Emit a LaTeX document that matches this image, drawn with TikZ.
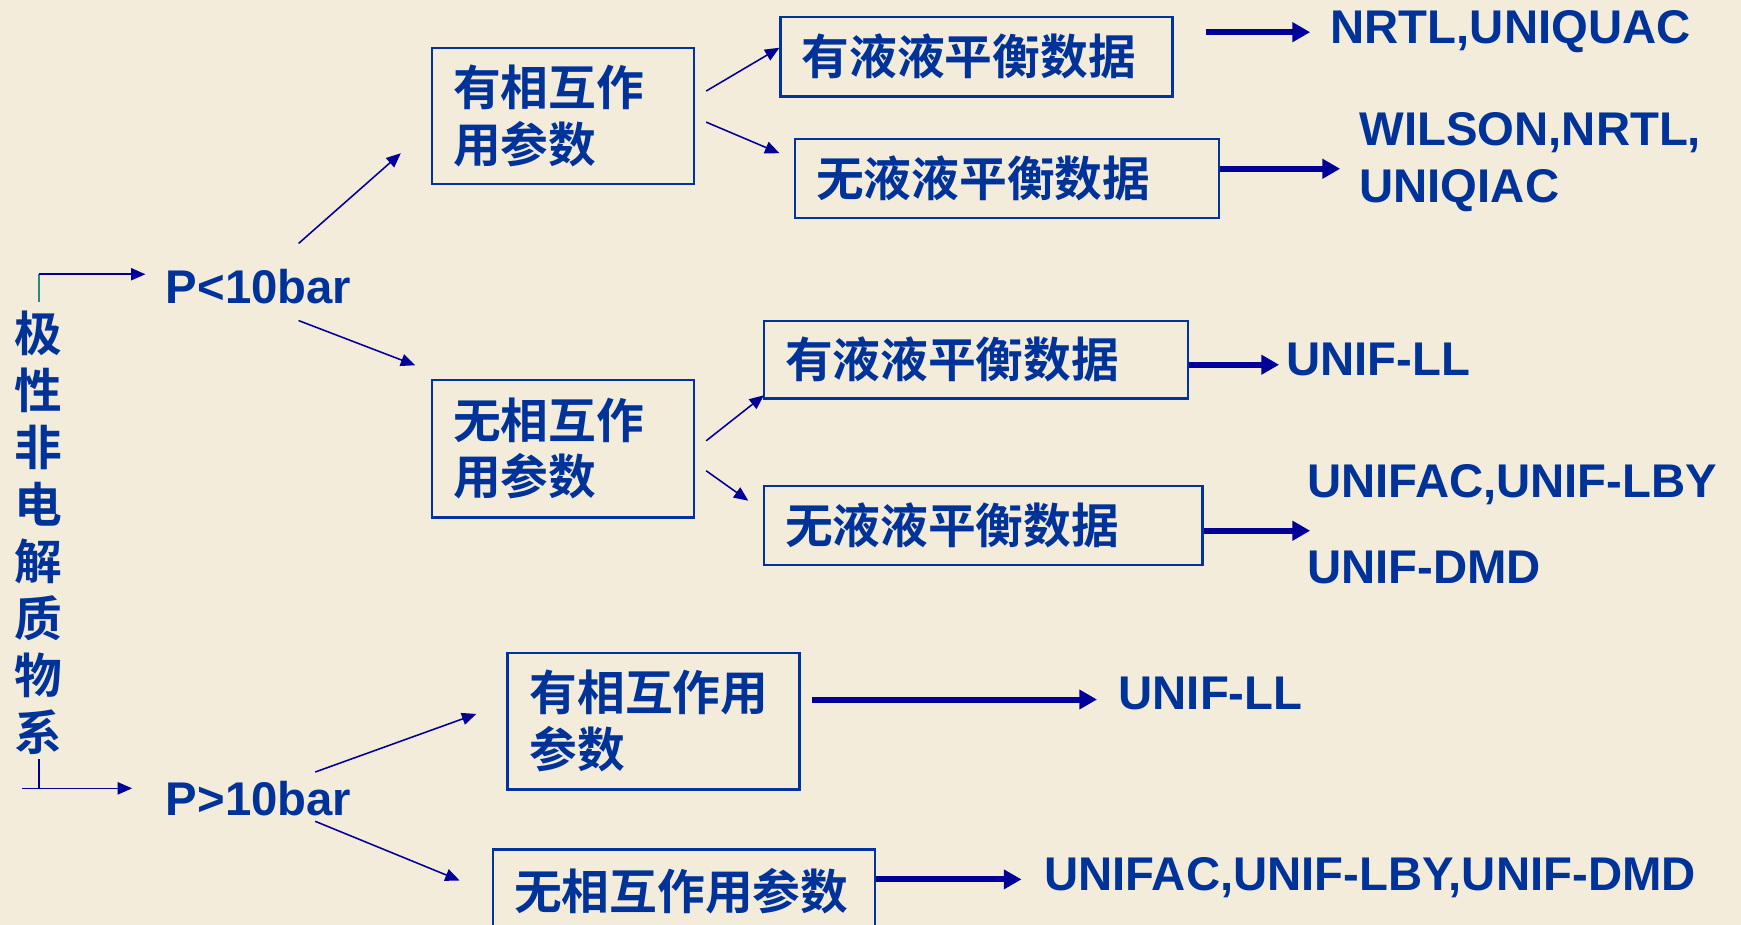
\documentclass[tikz,border=0pt]{standalone}
\usepackage{fontspec}
\setmainfont{Liberation Sans}
\newfontfamily\cjk{Noto Sans CJK SC Bold}
\usetikzlibrary{arrows.meta,calc}
\definecolor{bg}{RGB}{244,236,219}
\definecolor{txt}{RGB}{0,51,153}
\definecolor{navy}{RGB}{0,0,153}
\definecolor{boxc}{RGB}{0,51,160}
\definecolor{tealc}{RGB}{40,140,120}
\tikzset{
  lat/.style={font=\fontsize{21.3}{26}\selectfont\bfseries, text=txt, inner sep=0pt, anchor=west},
  lbl/.style={lat, text height=15.3pt, text depth=0pt},
  zh/.style={font=\cjk\fontsize{21.5}{25.5}\selectfont, text=txt},
  box/.style={zh, draw=boxc, line width=1pt, align=left, inner ysep=0pt, inner xsep=9.5pt},
  thinarr/.style={draw=navy, line width=0.7pt, -{Triangle[length=6.5pt,width=5.5pt]}},
  thickarr/.style={draw=navy, line width=2.7pt, -{Triangle[length=8pt,width=8.5pt]}},
  plainline/.style={draw=navy, line width=0.8pt}
}
\begin{document}
\begin{tikzpicture}[x=0.5pt,y=-0.5pt]
\useasboundingbox (0,0) rectangle (1568,833);
\clip (0,0) rectangle (1568,833);
\fill[bg] (0,0) rectangle (1568,833);

% title
\node[zh, align=center, inner sep=0pt, font=\cjk\fontsize{21.5}{25.7}\selectfont] (title) at (35,480)
  {极\\性\\非\\电\\解\\质\\物\\系};

% pressure labels
\node[lbl] (Plow) at (149,258) {P<10bar};
\node[lbl] (Phigh) at (149,719) {P>10bar};

% boxes
\node[box, text width=99pt, minimum height=61.5pt] (A1) at (507,104.5) {有相互作\\用参数};
\node[box, text width=99pt, minimum height=62pt] (A2) at (507,404) {无相互作\\用参数};
\node[box, text width=157.5pt, minimum height=36pt] (B1) at (879.5,51) {有液液平衡数据};
\node[box, text width=172pt, minimum height=35.5pt] (B2) at (907,160.5) {无液液平衡数据};
\node[box, text width=172pt, minimum height=35pt] (B3) at (879,324) {有液液平衡数据};
\node[box, text width=178.5pt, minimum height=35.5pt] (B4) at (885.5,473.5) {无液液平衡数据};
\node[box, text width=111.5pt, inner xsep=10pt, minimum height=61.5pt] (C1) at (588.5,649.5) {有相互作用\\参数};
\node[box, text width=153pt, minimum height=37.5pt] (C2) at (616,802.5) {无相互作用参数};

% result labels
\node[lbl] (r1) at (1198,24) {NRTL,UNIQUAC};
\node[lat, align=left, font=\fontsize{21.3}{26}\selectfont\bfseries] (r2) at (1224,146) {WILSON,NRTL,\\UNIQIAC};
\node[lbl] (r3) at (1158,323) {UNIF-LL};
\node[lat, align=left, font=\fontsize{21.3}{39}\selectfont\bfseries] (r4) at (1177,472) {UNIFAC,UNIF-LBY\\UNIF-DMD};
\node[lbl] (r5) at (1007,624) {UNIF-LL};
\node[lbl] (r6) at (940,787) {UNIFAC,UNIF-LBY,UNIF-DMD};

% bracket connectors
\coordinate (ct) at (35,247);
\coordinate (cb) at (35,710);
\coordinate (cbl) at (20,710);
\draw[tealc, line width=0.8pt] ([shift={(0,-8)}]title.north) -- (ct);
\draw[thinarr] (ct) -- ([shift={(-18,-11)}]Plow.west);
\draw[plainline] ([shift={(0,3)}]title.south) -- (cb);
\draw[thinarr] (cbl) -- ([shift={(-30,-9)}]Phigh.west);

% thin arrows
\draw[thinarr] ([shift={(36,-23)}]Plow.north) -- ([shift={(-27,33.5)}]A1.west);
\draw[thinarr] ([shift={(36,15)}]Plow.south) -- ([shift={(-14,-12)}]A2.north west);
\draw[thinarr] ([shift={(51,-8)}]Phigh.north) -- ([shift={(-27,-6.5)}]C1.west);
\draw[thinarr] ([shift={(51,5)}]Phigh.south) -- ([shift={(-29,-9.5)}]C2.west);
\draw[thinarr] ([shift={(10,-22.5)}]A1.east) -- ([shift={(0,-8)}]B1.west);
\draw[thinarr] ([shift={(10,5.5)}]A1.east) -- ([shift={(-13,-22.5)}]B2.west);
\draw[thinarr] ([shift={(10,-7)}]A2.east) -- ([shift={(1,-4)}]B3.south west);
\draw[thinarr] ([shift={(10,20)}]A2.east) -- ([shift={(-13,-22.5)}]B4.west);

% thick arrows
\draw[thickarr] ([shift={(29,-22)}]B1.east) -- ([shift={(-18,5)}]r1.west);
\draw[thickarr] ([shift={(0,-8.5)}]B2.east) -- ([shift={(-17,6)}]r2.west);
\draw[thickarr] ([shift={(0,4.5)}]B3.east) -- ([shift={(-6,5.5)}]r3.west);
\draw[thickarr] ([shift={(0,4.5)}]B4.east) -- ([shift={(3,6)}]r4.west);
\draw[thickarr] ([shift={(10,-19.5)}]C1.east) -- ([shift={(-19,6)}]r5.west);
\draw[thickarr] ([shift={(0,-10.5)}]C2.east) -- ([shift={(-20,5)}]r6.west);
\end{tikzpicture}
\end{document}
